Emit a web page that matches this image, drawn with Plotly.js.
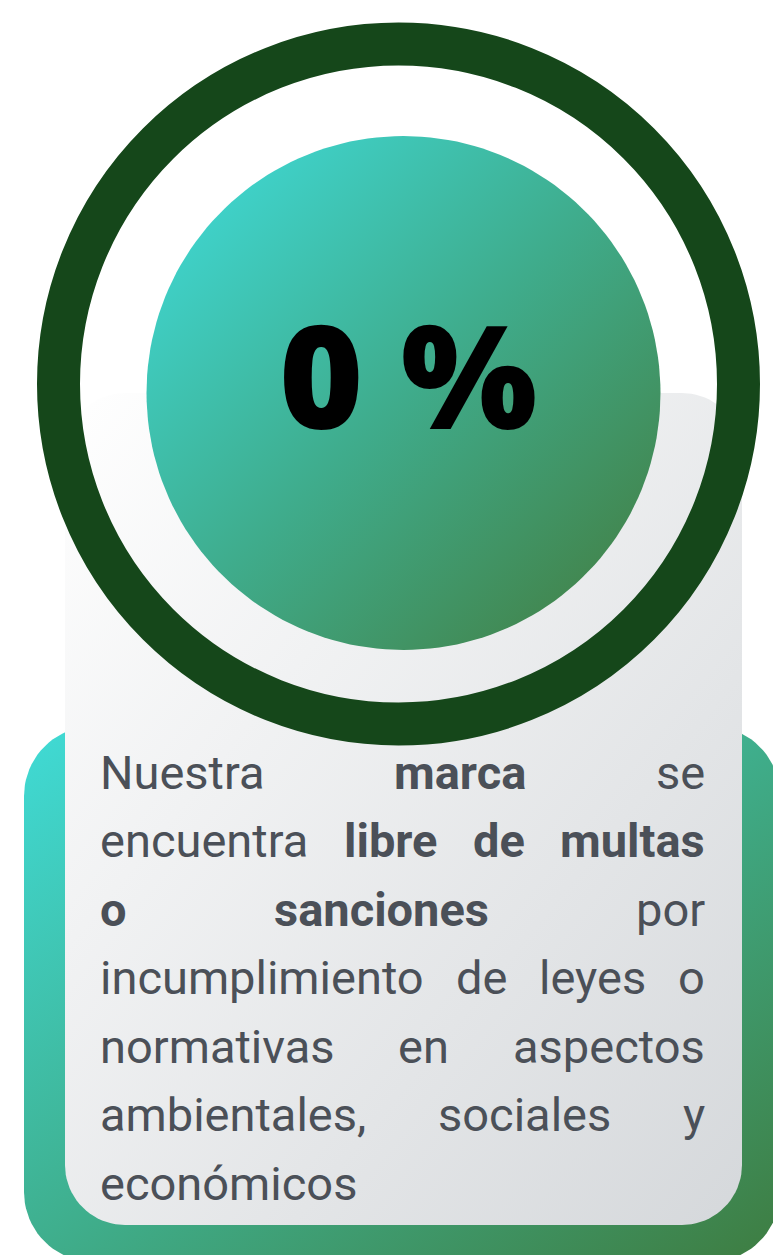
<!DOCTYPE html>
<html>
<head>
<meta charset="utf-8">
<script src="https://cdn.plot.ly/plotly-3.0.1.min.js"></script>
<style>
html,body{margin:0;padding:0;background:#ffffff;}
#chart{width:773px;height:1255px;}
</style>
</head>
<body>
<div id="chart"></div>
<script>
// ---- content ----
const metricValue = [0];
const metricUnit = ['%'];
const lineWords = [
  ['Nuestra', 'marca', 'se'],
  ['encuentra', 'libre', 'de', 'multas'],
  ['o', 'sanciones', 'por'],
  ['incumplimiento', 'de', 'leyes', 'o'],
  ['normativas', 'en', 'aspectos'],
  ['ambientales,', 'sociales', 'y'],
  ['económicos']
];
const lineBold = [
  [0, 1, 0],
  [0, 1, 1, 1],
  [1, 1, 0],
  [0, 0, 0, 0],
  [0, 0, 0],
  [0, 0, 0],
  [0]
];

// ---- style / geometry ----
const W = 773, H = 1255;
const TXT = '#4b5058';
const FS = 47;
const TEXT_L = 100, TEXT_R = 705;
const BASE0 = 788.5, LINE_STEP = 68.5;

function circlePts(cx, cy, r, n) {
  const xs = [], ys = [];
  for (let i = 0; i <= n; i++) {
    const a = 2 * Math.PI * i / n;
    xs.push(cx + r * Math.cos(a));
    ys.push(cy + r * Math.sin(a));
  }
  return {x: xs, y: ys};
}
function roundRectPts(x0, y0, x1, y1, r) {
  const xs = [], ys = [];
  const corners = [
    [x1 - r, y0 + r, -Math.PI / 2, 0],
    [x1 - r, y1 - r, 0, Math.PI / 2],
    [x0 + r, y1 - r, Math.PI / 2, Math.PI],
    [x0 + r, y0 + r, Math.PI, 1.5 * Math.PI]
  ];
  corners.forEach(c => {
    for (let i = 0; i <= 20; i++) {
      const a = c[2] + (c[3] - c[2]) * i / 20;
      xs.push(c[0] + r * Math.cos(a));
      ys.push(c[1] + r * Math.sin(a));
    }
  });
  xs.push(xs[0]); ys.push(ys[0]);
  return {x: xs, y: ys};
}

const bg = roundRectPts(24, 726, 780, 1262, 70);
const card = roundRectPts(65, 393, 742, 1225, 60);
const disc = circlePts(403.5, 393, 257, 180);

function fillTrace(p, scale, mid) {
  return {
    type: 'scatter', mode: 'lines', x: p.x, y: p.y,
    fill: 'toself', fillcolor: mid,
    fillgradient: {type: 'horizontal', colorscale: scale},
    line: {width: 0, color: 'rgba(0,0,0,0)'},
    hoverinfo: 'skip', showlegend: false
  };
}

const traces = [
  fillTrace(bg, [[0, '#40dbd6'], [0.5, '#3fae8c'], [1, '#3e7c40']], '#3fae8c'),
  fillTrace(card, [[0, '#ffffff'], [1, '#d5d8db']], '#eceef0'),
  fillTrace(disc, [[0, '#3fdfdf'], [0.5, '#3fac8c'], [1, '#437a3b']], '#3fac8c')
];

// ---- text ----
const ctx = document.createElement('canvas').getContext('2d');
function tw(word, bold) {
  ctx.font = (bold ? '700 ' : '400 ') + FS + 'px Roboto';
  return ctx.measureText(word).width;
}
const annotations = [];
lineWords.forEach((words, li) => {
  const bolds = lineBold[li];
  const widths = words.map((w, i) => tw(w, bolds[i]));
  const sum = widths.reduce((a, b) => a + b, 0);
  const last = li === lineWords.length - 1;
  const gap = (last || words.length < 2) ? tw(' ', false) : (TEXT_R - TEXT_L - sum) / (words.length - 1);
  let x = TEXT_L;
  const yc = BASE0 + li * LINE_STEP - 0.342 * FS;
  words.forEach((w, i) => {
    annotations.push({
      x: x, y: yc, xref: 'x', yref: 'y', text: w, showarrow: false,
      xanchor: 'left', yanchor: 'middle', borderpad: 0, borderwidth: 0,
      font: {family: 'Roboto, Arial, sans-serif', size: FS, color: TXT, weight: bolds[i] ? 700 : 400}
    });
    x += widths[i] + gap;
  });
});
annotations.push({
  x: 408, y: 373, xref: 'x', yref: 'y',
  text: metricValue[0] + ' ' + metricUnit[0], showarrow: false,
  xanchor: 'center', yanchor: 'middle', borderpad: 0, borderwidth: 0,
  font: {family: '"Open Sans", Arial, sans-serif', size: 144, color: '#000000', weight: 800}
});

const layout = {
  width: W, height: H,
  margin: {l: 0, r: 0, t: 0, b: 0, pad: 0},
  paper_bgcolor: '#ffffff', plot_bgcolor: '#ffffff',
  xaxis: {range: [0, W], visible: false, fixedrange: true},
  yaxis: {range: [H, 0], visible: false, fixedrange: true},
  showlegend: false, hovermode: false,
  shapes: [{
    type: 'circle', xref: 'x', yref: 'y', layer: 'above',
    x0: 398.5 - 340, x1: 398.5 + 340, y0: 384 - 340, y1: 384 + 340,
    line: {color: '#15471a', width: 43}, fillcolor: 'rgba(0,0,0,0)'
  }],
  annotations: annotations
};

const gd = document.getElementById('chart');
Plotly.newPlot(gd, traces, layout, {displayModeBar: false, staticPlot: true}).then(() => {
  // turn the library's linear gradients into diagonal ones (top-left -> bottom-right)
  gd.querySelectorAll('linearGradient').forEach(g => {
    g.setAttribute('gradientUnits', 'objectBoundingBox');
    g.setAttribute('x1', '1'); g.setAttribute('y1', '1');
    g.setAttribute('x2', '0'); g.setAttribute('y2', '0');
    g.removeAttribute('gradientTransform');
  });
});
</script>
</body>
</html>
